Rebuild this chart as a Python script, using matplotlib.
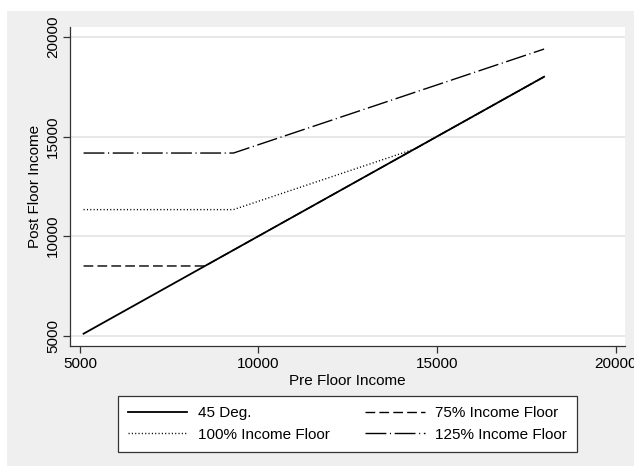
import matplotlib
matplotlib.use("Agg")
import matplotlib.pyplot as plt
from matplotlib.patches import Rectangle

plt.rcParams['font.family'] = ['Liberation Sans', 'DejaVu Sans']

# values
pre_45 = [5100, 18000]
post_45 = [5100, 18000]
pre_75 = [5100, 8500, 18000]
post_75 = [8500, 8500, 18000]
pre_100 = [5100, 9300, 14375, 18000]
post_100 = [11330, 11330, 14375, 18000]
pre_125 = [5100, 9300, 18000]
post_125 = [14170, 14170, 19390]
ticks = [5000, 10000, 15000, 20000]

W, H = 634, 466
fig = plt.figure(figsize=(W / 100, H / 100), dpi=100, facecolor='white')
# stata-ish gray graph region
fig.patches.append(Rectangle((7 / W, 0), 1, 1 - 11 / H, transform=fig.transFigure,
                             facecolor='#efefef', edgecolor='none', zorder=-10))

ax = fig.add_axes([70 / W, (H - 346) / H, 555 / W, 319 / H])
ax.set_facecolor('white')

l1, = ax.plot(pre_45, post_45, color='black', lw=1.3, label='45 Deg.')
l2, = ax.plot(pre_75, post_75, color='black', lw=1.0, dashes=(7, 3), label='75% Income Floor')
l3, = ax.plot(pre_100, post_100, color='black', lw=1.0, dashes=(0.8, 1.6), label='100% Income Floor')
l4, = ax.plot(pre_125, post_125, color='black', lw=1.0, dashes=(15, 2.6, 0.8, 2.6),
              label='125% Income Floor')

ax.set_xlim(4720, 20266)
ax.set_ylim(4483, 20497)
ax.set_xticks(ticks)
ax.set_yticks(ticks)
ax.set_yticklabels([str(t) for t in ticks], rotation=90, va='center')
ax.tick_params(axis='both', labelsize=11, length=5, width=0.9, color='#333333', pad=3)
ax.tick_params(axis='y', pad=2)
ax.grid(axis='y', color='#e4e4e4', lw=1.2)
ax.set_axisbelow(True)
for s in ['top', 'right']:
    ax.spines[s].set_visible(False)
for s in ['left', 'bottom']:
    ax.spines[s].set_color('#333333')
    ax.spines[s].set_linewidth(0.9)

ax.set_xlabel('Pre Floor Income', fontsize=11, labelpad=2)
ax.set_ylabel('Post Floor Income', fontsize=11, labelpad=3)

leg = fig.legend([l1, l3, l2, l4], [l.get_label() for l in [l1, l3, l2, l4]],
                 loc='center', bbox_to_anchor=(347.5 / W, 1 - 424 / H), ncol=2,
                 fontsize=11, handlelength=3.9, handletextpad=0.7, columnspacing=2.3,
                 fancybox=False, framealpha=1, edgecolor='#333333',
                 borderpad=0.65, labelspacing=0.5)
leg.get_frame().set_linewidth(0.9)

fig.savefig('out.png', dpi=100, facecolor=fig.get_facecolor())
